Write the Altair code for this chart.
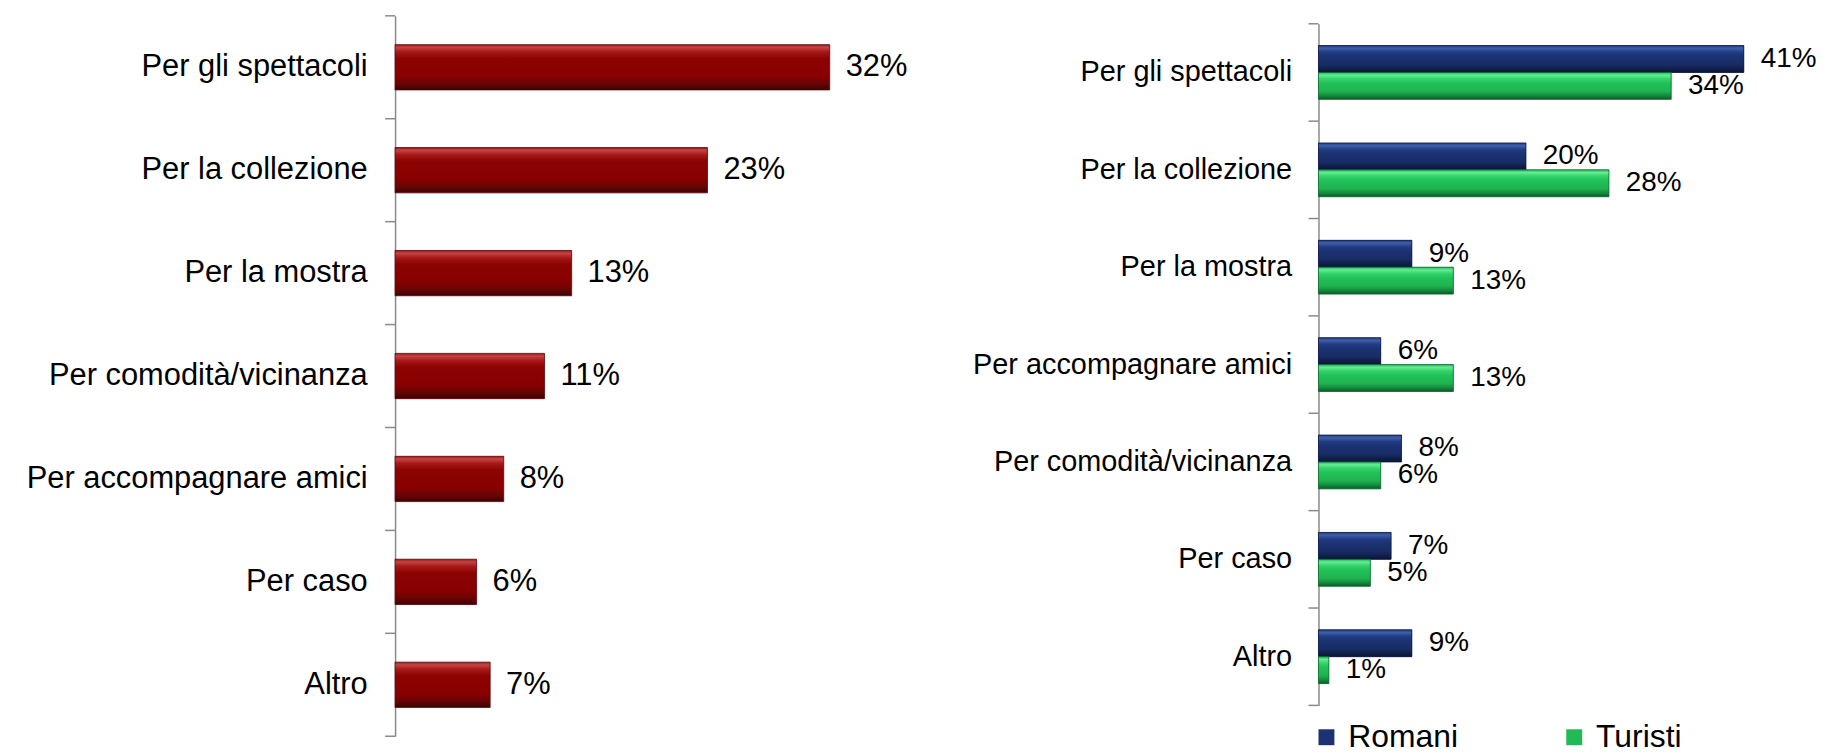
import altair as alt
import pandas as pd

# ---------------- data ----------------
left_categories = ["Per gli spettacoli", "Per la collezione", "Per la mostra",
                   "Per comodità/vicinanza", "Per accompagnare amici", "Per caso", "Altro"]
left_values = [32, 23, 13, 11, 8, 6, 7]

right_categories = ["Per gli spettacoli", "Per la collezione", "Per la mostra",
                    "Per accompagnare amici", "Per comodità/vicinanza", "Per caso", "Altro"]
series_names = ["Romani", "Turisti"]
romani_values = [41, 20, 9, 6, 8, 7, 9]
turisti_values = [34, 28, 13, 13, 6, 5, 1]

df_left = pd.DataFrame({"cat": left_categories, "val": left_values})
df_left["label"] = df_left["val"].astype(str) + "%"

rows = []
for s, vals in zip(series_names, [romani_values, turisti_values]):
    for c, v in zip(right_categories, vals):
        rows.append({"cat": c, "series": s, "val": v, "label": f"{v}%"})
df_right = pd.DataFrame(rows)
df_right_cats = pd.DataFrame({"cat": right_categories})

FONT = "Liberation Sans"
AXIS_GREY = "#8a8a8a"


def grad(stops):
    return alt.Gradient(gradient="linear", x1=0, x2=0, y1=0, y2=1,
                        stops=[alt.GradientStop(offset=o, color=c) for o, c in stops])


red_grad = grad([(0, "#9a1a1a"), (0.06, "#c44545"), (0.16, "#a81818"), (0.3, "#8c0303"),
                 (0.7, "#880000"), (0.86, "#680505"), (1, "#3c0202")])
navy_grad = grad([(0, "#223d80"), (0.1, "#3f5fa8"), (0.24, "#223d85"), (0.4, "#1c3272"),
                  (0.7, "#182c66"), (0.87, "#101f4a"), (1, "#0a1435")])
green_grad = grad([(0, "#25b85a"), (0.1, "#62ec93"), (0.24, "#33d36a"), (0.4, "#22c158"),
                   (0.7, "#1fb350"), (0.87, "#14883c"), (1, "#0a5a25")])


def tick_layers(df, ysort, yscale, axis, last_cat):
    """Axis tick marks at band boundaries (start of each band + end of the last)."""
    starts = alt.Chart(df).mark_rule(color=AXIS_GREY, strokeWidth=1.5).encode(
        y=alt.Y("cat:N", sort=ysort, title=None, scale=yscale, axis=axis, bandPosition=0),
        x=alt.value(-10), x2=alt.value(0))
    end = alt.Chart(df).transform_filter(alt.datum.cat == last_cat).mark_rule(
        color=AXIS_GREY, strokeWidth=1.5).encode(
        y=alt.Y("cat:N", sort=ysort, title=None, scale=yscale, axis=axis, bandPosition=1),
        x=alt.value(-10), x2=alt.value(0))
    return [starts, end]


# ---------------- left chart ----------------
left_axis = alt.Axis(ticks=False, labelPadding=28, labelFontSize=31,
                     labelFont=FONT, labelColor="black", domainColor=AXIS_GREY,
                     domainWidth=1.5, minExtent=384, maxExtent=384, labelLimit=600, grid=False)
left_scale = alt.Scale(paddingInner=0, paddingOuter=0)
y_left = alt.Y("cat:N", sort=left_categories, title=None, scale=left_scale, axis=left_axis)
x_left = alt.X("val:Q", scale=alt.Scale(domain=[0, 40]), axis=None)

bars_left = alt.Chart(df_left).mark_bar(
    color=red_grad, height={"band": 0.44}, stroke="#5a0000", strokeWidth=0.8
).encode(x=x_left, y=y_left)

text_left = alt.Chart(df_left).mark_text(
    align="left", baseline="middle", dx=16, fontSize=31, font=FONT, color="black"
).encode(x=x_left, y=y_left, text="label:N")

left = alt.layer(
    bars_left, text_left,
    *tick_layers(df_left, left_categories, left_scale, left_axis, left_categories[-1])
).properties(width=546, height=724)

# ---------------- right chart ----------------
right_axis = alt.Axis(ticks=False, labelPadding=27, labelFontSize=29,
                      labelFont=FONT, labelColor="black", domainColor=AXIS_GREY,
                      domainWidth=1.5, minExtent=352, maxExtent=352, labelLimit=600, grid=False)
right_scale = alt.Scale(paddingInner=0, paddingOuter=0, range=[8, 693])
y_right = alt.Y("cat:N", sort=right_categories, title=None, scale=right_scale, axis=right_axis)
x_right = alt.X("val:Q", scale=alt.Scale(domain=[0, 47]), axis=None)
yoff = alt.YOffset("series:N", sort=series_names,
                   scale=alt.Scale(paddingInner=0, paddingOuter=0.81))

base_right = alt.Chart(df_right).mark_bar().encode(
    x=x_right, y=y_right, yOffset=yoff,
    color=alt.Color("series:N", sort=series_names,
                    scale=alt.Scale(domain=series_names, range=["#1c3272", "#22b957"]),
                    legend=alt.Legend(orient="none", legendX=-8, legendY=709,
                                      direction="horizontal", title=None,
                                      labelFontSize=32, labelFont=FONT, labelColor="black",
                                      symbolType="square", symbolSize=256,
                                      symbolStrokeWidth=0, labelOffset=6,
                                      columnPadding=100))
)

rom_layer = alt.Chart(df_right).transform_filter(alt.datum.series == "Romani").mark_bar(
    color=navy_grad, stroke="#0c1a45", strokeWidth=0.8
).encode(x=x_right, y=y_right, yOffset=yoff)

tur_layer = alt.Chart(df_right).transform_filter(alt.datum.series == "Turisti").mark_bar(
    color=green_grad, stroke="#0e6a30", strokeWidth=0.8
).encode(x=x_right, y=y_right, yOffset=yoff)

text_right = alt.Chart(df_right).mark_text(
    align="left", baseline="middle", dx=17, fontSize=28, font=FONT, color="black"
).encode(x=x_right, y=y_right, yOffset=yoff, text="label:N")

right = alt.layer(
    base_right, rom_layer, tur_layer, text_right,
    *tick_layers(df_right_cats, right_categories, right_scale, right_axis, right_categories[-1])
).properties(width=490, height=724)

chart = (
    alt.hconcat(left, right, spacing=30)
    .resolve_scale(color="independent")
    .resolve_legend(color="independent")
    .properties(padding={"left": 5, "top": 5, "right": 0, "bottom": 0})
    .configure(font=FONT, background="white")
    .configure_view(stroke=None)
)

chart.save("out.html", embed_options={"renderer": "svg", "actions": False})
